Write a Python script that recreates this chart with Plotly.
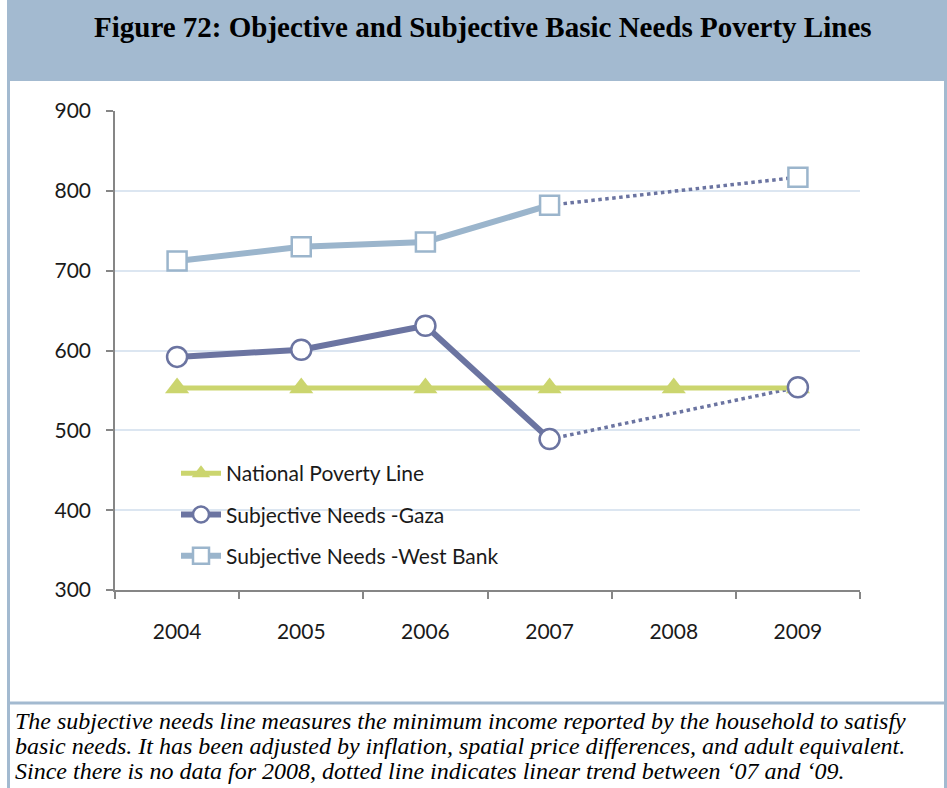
import plotly.graph_objects as go

# ---- data -------------------------------------------------------------
years = ["2004", "2005", "2006", "2007", "2008", "2009"]
national_line = [553, 553, 553, 553, 553, 553]
gaza = [592, 601, 631, 489, None, 554]
west_bank = [712, 730, 736, 782, None, 817]

series_names = ["National Poverty Line", "Subjective Needs -Gaza", "Subjective Needs -West Bank"]
y_ticks = [300, 400, 500, 600, 700, 800, 900]

title_text = "Figure 72: Objective and Subjective Basic Needs Poverty Lines"
note_lines = [
    "The subjective needs line measures the minimum income reported by the household to satisfy",
    "basic needs. It has been adjusted by inflation, spatial price differences, and adult equivalent.",
    "Since there is no data for 2008, dotted line indicates linear trend between \u201807 and \u201809.",
]

# ---- styling ----------------------------------------------------------
W, H = 947, 788
PL, PR, PT, PB = 115, 860, 111, 590  # plot area in pixels
C_NAT = "#CBD56E"
C_GAZA = "#6B74A1"
C_WB = "#9BB5CC"
C_FRAME = "#A3BAD0"
TICK_FONT = dict(family="Lato", size=21, color="#1a1a1a")


def px_x(x):
    return (x - PL) / (PR - PL)


def px_y(y):
    return (PB - y) / (PB - PT)


fig = go.Figure()

# dotted linear trend across the missing year
def trend_segment(values):
    i0, i1 = 3, 5
    return [years[i0], years[i1]], [values[i0], values[i1]]

for vals in (gaza, west_bank):
    tx, ty = trend_segment(vals)
    fig.add_trace(go.Scatter(
        x=tx, y=ty, mode="lines", showlegend=False, hoverinfo="skip",
        line=dict(color=C_GAZA, width=3.5, dash="3.5px,3.5px"),
    ))

# national poverty line
fig.add_trace(go.Scatter(
    x=years, y=national_line, mode="lines+markers", name=series_names[0],
    legendgroup="a", legendrank=1,
    line=dict(color=C_NAT, width=5),
    marker=dict(symbol="triangle-up", size=21, color=C_NAT, line=dict(width=0)),
))

# subjective lines: solid part up to 2007, plus the 2009 point
def solid_part(values):
    xs = [y for y, v in zip(years, values) if v is not None and int(y) <= 2007]
    ys = [v for y, v in zip(years, values) if v is not None and int(y) <= 2007]
    return xs, ys

for vals, name, col, sym, sz, grp, rank in (
    (gaza, series_names[1], C_GAZA, "circle", 20, "b", 2),
    (west_bank, series_names[2], C_WB, "square", 19, "c", 3),
):
    sx, sy = solid_part(vals)
    mk = dict(symbol=sym, size=sz, color="white", line=dict(color=col, width=2.5))
    fig.add_trace(go.Scatter(
        x=sx, y=sy, mode="lines+markers", name=name, legendgroup=grp, legendrank=rank,
        line=dict(color=col, width=6), marker=mk,
    ))
    fig.add_trace(go.Scatter(
        x=[years[5]], y=[vals[5]], mode="markers", showlegend=False,
        legendgroup=grp, marker=mk,
    ))

# ---- frame, title band and note ---------------------------------------
shapes = [
    dict(type="rect", xref="paper", yref="paper",
         x0=px_x(7), x1=px_x(947), y0=px_y(81), y1=px_y(0),
         fillcolor=C_FRAME, line=dict(width=0), layer="below"),
    dict(type="line", xref="paper", yref="paper",
         x0=px_x(8.5), x1=px_x(8.5), y0=px_y(81), y1=px_y(790),
         line=dict(color=C_FRAME, width=3)),
    dict(type="line", xref="paper", yref="paper",
         x0=px_x(945.5), x1=px_x(945.5), y0=px_y(81), y1=px_y(790),
         line=dict(color=C_FRAME, width=3)),
    dict(type="line", xref="paper", yref="paper",
         x0=px_x(7), x1=px_x(947), y0=px_y(703), y1=px_y(703),
         line=dict(color=C_FRAME, width=3)),
]

annotations = [
    dict(text=title_text, xref="paper", yref="paper", x=px_x(483), y=px_y(27),
         xanchor="center", yanchor="middle", showarrow=False,
         font=dict(family="Liberation Serif", size=29, color="black", weight="bold")),
]
for i, line in enumerate(note_lines):
    annotations.append(dict(
        text=f"<i>{line}</i>", xref="paper", yref="paper",
        x=px_x(13), y=px_y(721 + 25 * i), xanchor="left", yanchor="middle",
        showarrow=False,
        font=dict(family="Liberation Serif", size=24, color="black"),
    ))

fig.update_layout(
    width=W, height=H,
    margin=dict(l=PL, r=W - PR, t=PT, b=H - PB, pad=0),
    paper_bgcolor="white", plot_bgcolor="white",
    shapes=shapes, annotations=annotations,
    showlegend=True,
    legend=dict(
        x=px_x(176), y=px_y(453), xanchor="left", yanchor="top",
        font=dict(family="Lato", size=21, color="#1a1a1a"),
        bgcolor="rgba(0,0,0,0)", tracegroupgap=11, traceorder="grouped",
        itemwidth=40,
    ),
    xaxis=dict(
        type="category", categoryorder="array", categoryarray=years,
        range=[-0.5, 5.5], tickson="boundaries", ticks="outside", ticklen=7,
        tickcolor="#868686", tickwidth=1.5,
        showline=True, linecolor="#868686", linewidth=1.5,
        showgrid=False, zeroline=False, tickfont=TICK_FONT, ticklabelstandoff=22,
        fixedrange=True,
    ),
    yaxis=dict(
        range=[300, 900], tickvals=y_ticks, ticks="outside", ticklen=7,
        tickcolor="#868686", tickwidth=1.5,
        showline=True, linecolor="#868686", linewidth=1.5,
        showgrid=True, gridcolor="#DCE6F1", gridwidth=1.5, zeroline=False,
        tickfont=TICK_FONT, ticklabelstandoff=11, fixedrange=True,
    ),
)

fig.write_html("out.html")
